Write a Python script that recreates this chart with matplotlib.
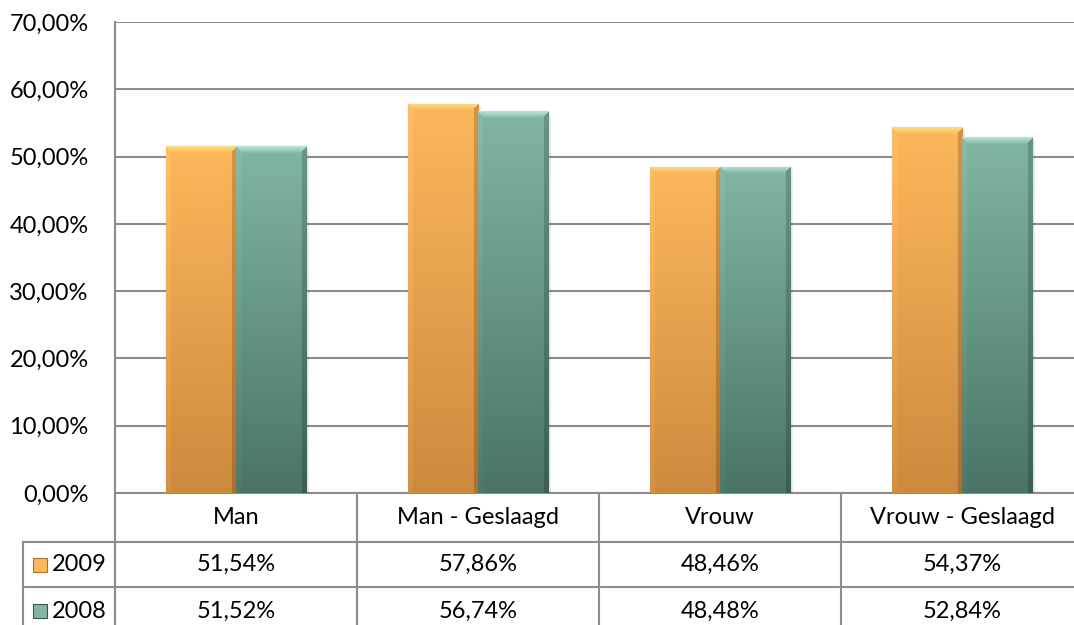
"""
Slagingspercentages man/vrouw 2009 vs 2008, Excel-style bar chart with data table.
"""
import numpy as np
import matplotlib.pyplot as plt
from matplotlib.transforms import blended_transform_factory

# Data
categories = ['Man', 'Man - Geslaagd', 'Vrouw', 'Vrouw - Geslaagd']
years = ['2009', '2008']
values_2009 = [51.54, 57.86, 48.46, 54.37]
values_2008 = [51.52, 56.74, 48.48, 52.84]
yticks = [0, 10, 20, 30, 40, 50, 60, 70]

FONT = 'Lato'
FS = 17
GRID = '#8c8c8c'

# bar colours: top, bottom, bevel highlight, edge
ORANGE = dict(top=(253, 183, 92), bottom=(204, 138, 62), hi=(255, 222, 120), edge=(170, 112, 45))
TEAL = dict(top=(130, 182, 162), bottom=(74, 116, 101), hi=(178, 230, 210), edge=(55, 88, 78))


def bevel_image(w_px, h_px, c, b=7):
    """Build a shaded RGB array that mimics Excel's bevelled bar."""
    h_px = max(int(h_px), 2)
    w_px = max(int(w_px), 2)
    top = np.array(c['top']) / 255
    bot = np.array(c['bottom']) / 255
    hi = np.array(c['hi']) / 255
    t = np.linspace(0, 1, h_px)[:, None, None]
    img = top * (1 - t) + bot * t
    img = np.repeat(img, w_px, axis=1)
    rows = np.arange(h_px)[:, None]
    cols = np.arange(w_px)[None, :]
    d_top = rows + 0 * cols
    d_left = cols + 0 * rows
    d_right = (w_px - 1 - cols) + 0 * rows
    top_zone = (d_top < b) & (d_top <= d_left) & (d_top <= d_right)
    right_zone = (d_right < b - 2) & ~top_zone
    left_zone = (d_left < b - 2) & ~top_zone
    frac = (d_top / b)[..., None]
    img[top_zone] = (hi * (1 - frac) + top * frac)[top_zone]
    img[right_zone] = img[right_zone] * 0.82
    img[left_zone] = np.clip(img[left_zone] * 1.04, 0, 1)
    return img


def plot_chart():
    fig = plt.figure(figsize=(10.74, 6.25), dpi=100)
    W, H = 1074, 625
    ax = fig.add_axes([115 / W, (H - 493) / H, (1083 - 115) / W, (493 - 22) / H])

    n = len(categories)
    x = np.arange(n)
    w = 0.29
    ax.set_xlim(-0.5, n - 0.5)
    ax.set_ylim(0, 70)

    px_x = (1083 - 115) / n  # pixels per category unit
    px_y = (493 - 22) / 70.0  # pixels per percent

    for vals, c, off in [(values_2009, ORANGE, -w / 2), (values_2008, TEAL, w / 2)]:
        bars = ax.bar(x + off, vals, w, color=np.array(c['top']) / 255,
                      edgecolor=np.array(c['edge']) / 255, linewidth=0.8, zorder=3)
        for bar, v in zip(bars, vals):
            x0 = bar.get_x()
            img = bevel_image(w * px_x, v * px_y, c)
            im = ax.imshow(img, extent=[x0, x0 + w, 0, v], aspect='auto',
                           origin='upper', zorder=3.5, interpolation='bilinear')
            im.set_clip_path(bar)
            # subtle shadow
            ax.add_patch(plt.Rectangle((x0 + 0.012, 0), w, v - 0.4, color='#000000',
                                       alpha=0.08, zorder=2.5, lw=0))

    ax.set_xlim(-0.5, n - 0.5)
    ax.set_ylim(0, 70)

    ax.set_yticks(yticks)
    ax.set_yticklabels([f'{t:.2f}%'.replace('.', ',') for t in yticks],
                       fontsize=FS, fontfamily=FONT)
    ax.tick_params(axis='y', length=0, pad=19)
    ax.set_xticks([])
    ax.grid(axis='y', color=GRID, linewidth=1.5, zorder=0)
    ax.set_axisbelow(True)
    for s in ['top', 'right', 'bottom']:
        ax.spines[s].set_visible(False)
    ax.spines['left'].set_color(GRID)
    ax.spines['left'].set_linewidth(1.5)

    # data table below the axis
    tr = blended_transform_factory(ax.transData, ax.transAxes)
    ah = 493 - 22
    r1 = -(542 - 493) / ah
    r2 = -(587 - 493) / ah
    r3 = -(640 - 493) / ah
    xl = -0.5 - (115 - 23) / px_x
    xr = n - 0.5
    lk = dict(color=GRID, linewidth=1.5, transform=tr, clip_on=False)
    ax.plot([-0.5, xr], [0, 0], **lk)
    ax.plot([xl, xr], [r1, r1], **lk)
    ax.plot([xl, xr], [r2, r2], **lk)
    ax.plot([xl, xl], [r1, r3], **lk)
    ax.plot([-0.5, -0.5], [0, r3], **lk)
    for b in np.arange(n - 1) + 0.5:
        ax.plot([b, b], [0, r3], **lk)

    txt = dict(transform=tr, fontsize=FS, fontfamily=FONT, va='center', clip_on=False)
    for i, cat in enumerate(categories):
        ax.text(i, r1 / 2, cat, ha='center', **txt)
    for row_y, vals in [((r1 + r2) / 2, values_2009), ((r2 + r3) / 2 + 0.005, values_2008)]:
        for i, v in enumerate(vals):
            ax.text(i, row_y, f'{v:.2f}%'.replace('.', ','), ha='center', **txt)

    # legend keys
    kx = -0.5 - (115 - 40) / px_x
    for row_y, c, lab in [((r1 + r2) / 2, ORANGE, years[0]), ((r2 + r3) / 2 + 0.005, TEAL, years[1])]:
        ax.plot([kx], [row_y], marker='s', markersize=10,
                markerfacecolor=np.array(c['top']) / 255,
                markeredgecolor=np.array(c['edge']) / 255, markeredgewidth=0.8,
                transform=tr, clip_on=False)
        ax.text(-0.5 - (115 - 52) / px_x, row_y, lab, ha='left', **txt)

    fig.savefig('out.png', dpi=100, facecolor='white')
    plt.close(fig)


if __name__ == "__main__":
    plot_chart()
